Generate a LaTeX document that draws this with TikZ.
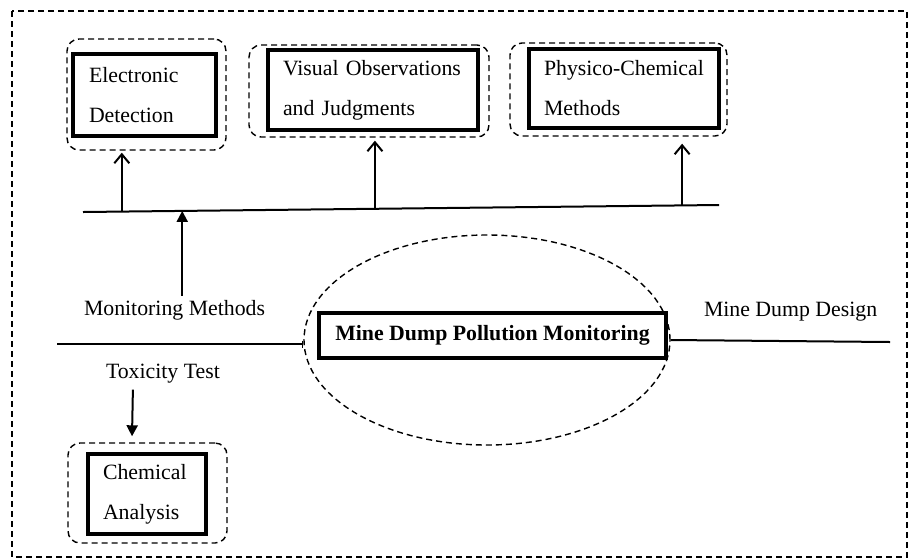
\documentclass[tikz,border=0pt]{standalone}
\usepackage{fontspec}
\setmainfont{Liberation Serif}
\usetikzlibrary{arrows.meta,shapes.geometric,calc}

\begin{document}
\begin{tikzpicture}[x=1pt,y=-1pt,line width=2pt,
	font=\fontsize{21.8}{40}\selectfont,
	solidbox/.style={draw,line width=4.5pt,align=left,inner ysep=0pt},
	dashbox/.style={draw,line width=1.4pt,dash pattern=on 6pt off 4pt,rounded corners=12pt,inner sep=0pt},
	lbl/.style={inner sep=0pt,anchor=base west},
	openarrow/.style={-{Straight Barb[length=9pt,width=15pt]}},
	fillarrow/.style={-{Triangle[length=11pt,width=11pt]}}]
	\useasboundingbox (0,0) rectangle (909,558);
	\draw[line width=1.3pt,dash pattern=on 6pt off 4pt] (12,11) rectangle (907,557);
	% method boxes
	\node[dashbox,minimum width=159,minimum height=111] (elecD) at (146.5,94.5) {};
	\node[solidbox,text width=111,inner xsep=16pt,minimum height=82] (elec) at (144.5,95) {Electronic\\Detection};
	\node[dashbox,minimum width=240,minimum height=92] (visD) at (369,91) {};
	\node[solidbox,text width=180,inner xsep=15pt,minimum height=80] (vis) at (373,90) {Visual Observations\\and Judgments};
	\node[dashbox,minimum width=217,minimum height=93] (physD) at (618.5,89.5) {};
	\node[solidbox,text width=160,inner xsep=15pt,minimum height=79] (phys) at (624,88.5) {Physico-Chemical\\Methods};
	\node[dashbox,minimum width=159,minimum height=100] (chemD) at (147.5,493) {};
	\node[solidbox,text width=88,inner xsep=15pt,minimum height=80] (chem) at (147,494) {Chemical\\Analysis};
	% centre
	\node[ellipse,draw,line width=1.4pt,dash pattern=on 6pt off 4pt,minimum width=366,minimum height=210,inner sep=0pt] (ell) at (487,340) {};
	\node[solidbox,minimum width=347,minimum height=45,font=\fontsize{21.8}{26}\selectfont\bfseries] (main) at (492.5,335.5) {Mine Dump Pollution Monitoring};
	% labels
	\node[lbl] (mm) at (83,315) {Monitoring Methods};
	\node[lbl] (tox) at (105,378) {Toxicity Test};
	\node[lbl] (design) at (703,316) {Mine Dump Design};
	% lines
	\coordinate (lineL) at (83,212);
	\coordinate (lineR) at (719,205);
	\coordinate (mainL) at (57,344);
	\coordinate (mainR) at (890,342);
	\draw (lineL) -- (lineR);
	\draw[-{Bar[width=7pt,line width=1pt]}] (mainL) -- (mainL -| ell.west);
	\draw (ell.east) -- (mainR);
	\coordinate (t1) at ($(lineL)!0.061!(lineR)$);
	\coordinate (t2) at ($(lineL)!0.156!(lineR)$);
	\coordinate (t3) at ($(lineL)!0.459!(lineR)$);
	\coordinate (t4) at ($(lineL)!0.942!(lineR)$);
	\draw[openarrow] (t1) -- ([yshift=-2pt]t1 |- elecD.south);
	\draw[openarrow] (t3) -- ([yshift=-3pt]t3 |- visD.south);
	\draw[openarrow] (t4) -- ([yshift=-7pt]t4 |- physD.south);
	\draw[fillarrow] ([yshift=3pt]t2 |- mm.north) -- (t2);
	\draw[fillarrow] ([xshift=-30pt,yshift=-6pt]tox.south) -- ([xshift=-15.5pt,yshift=6pt]chemD.north);
\end{tikzpicture}
\end{document}
